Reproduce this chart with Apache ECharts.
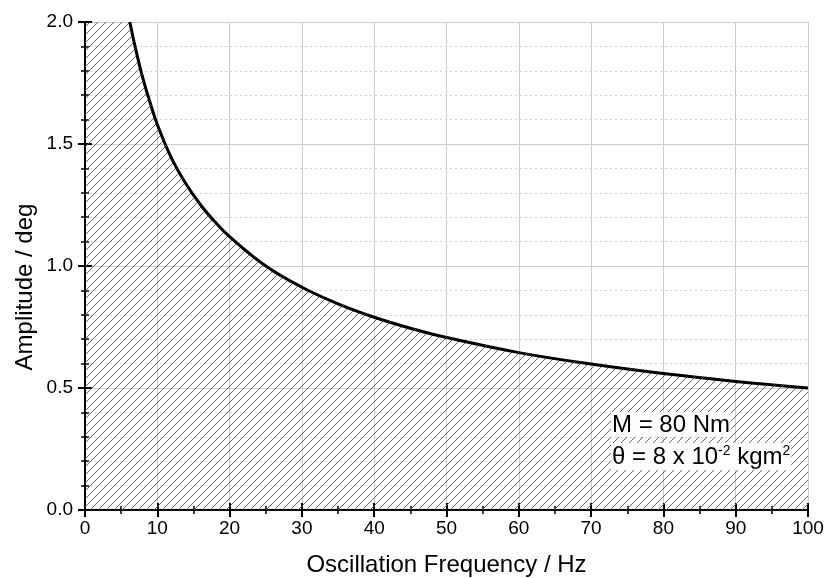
<!DOCTYPE html>
<html>
<head>
<meta charset="utf-8">
<script src="https://cdn.jsdelivr.net/npm/echarts@6/dist/echarts.min.js"></script>
<style>
  html, body { margin: 0; padding: 0; background: #fff; }
  #chart { width: 824px; height: 578px; }
</style>
</head>
<body>
<div id="chart"></div>
<script>
// curve (frequency in Hz, amplitude in deg)
var freq = [6.2, 7, 8, 9, 10, 12, 14, 16, 18, 20, 25, 30, 35, 40, 45, 50, 60, 70, 80, 90, 100];
var amp = [2.0, 1.89, 1.77, 1.67, 1.58, 1.44, 1.335, 1.25, 1.18, 1.12, 1.0, 0.913, 0.845, 0.79, 0.745, 0.707, 0.645, 0.598, 0.559, 0.527, 0.50];
// flat top of the hatched region left of the curve
var topFreq = [0, 6.2];
var topAmp = [2.0, 2.0];
var xTicks = [0, 10, 20, 30, 40, 50, 60, 70, 80, 90, 100];
var note1 = 'M = 80 Nm';

var font = '"Liberation Sans", Arial, sans-serif';

// hatch pattern
function hatch() {
    var c = document.createElement('canvas');
    c.width = 8; c.height = 8;
    var ctx = c.getContext('2d');
    ctx.strokeStyle = '#555';
    ctx.lineWidth = 0.9;
    ctx.beginPath();
    ctx.moveTo(0, 8); ctx.lineTo(8, 0);
    ctx.moveTo(-4, 4); ctx.lineTo(4, -4);
    ctx.moveTo(4, 12); ctx.lineTo(12, 4);
    ctx.stroke();
    return c;
}
var pattern = { image: hatch(), repeat: 'repeat' };

var curve = freq.map(function (f, i) { return [f, amp[i]]; });
var topPart = topFreq.map(function (f, i) { return [f, topAmp[i]]; });

var myChart = echarts.init(document.getElementById('chart'));

var axisCommon = {
    type: 'value',
    axisLine: { show: true, lineStyle: { color: '#000', width: 2 } },
    axisTick: { show: true, inside: true, length: 7, lineStyle: { color: '#000', width: 2 } },
    minorTick: { show: true, length: 4, lineStyle: { color: '#000', width: 1.5 } }
};

var option = {
    animation: false,
    grid: { left: 85, right: 16, top: 22, bottom: 68, outerBoundsMode: 'none', containLabel: false },
    xAxis: [
        Object.assign({}, axisCommon, {
            position: 'bottom',
            min: 0, max: 100, interval: 10,
            minorTick: Object.assign({}, axisCommon.minorTick, { splitNumber: 2 }),
            name: 'Oscillation Frequency / Hz',
            nameLocation: 'middle',
            nameGap: 43,
            nameTextStyle: { fontFamily: font, fontSize: 24, color: '#000' },
            axisLabel: { margin: 9, fontFamily: font, fontSize: 19, color: '#000',
                formatter: function (v) { return xTicks.indexOf(v) >= 0 ? String(v) : ''; } },
            splitLine: { show: true, lineStyle: { color: '#cccccc', width: 1 } }
        }),
        Object.assign({}, axisCommon, {
            position: 'top',
            min: 0, max: 100, interval: 10,
            minorTick: Object.assign({}, axisCommon.minorTick, { splitNumber: 2 }),
            axisLabel: { show: false },
            splitLine: { show: false }
        })
    ],
    yAxis: [
        Object.assign({}, axisCommon, {
            position: 'left',
            min: 0, max: 2, interval: 0.5,
            minorTick: Object.assign({}, axisCommon.minorTick, { splitNumber: 5 }),
            axisLabel: { margin: 12, fontFamily: font, fontSize: 19, color: '#000',
                formatter: function (v) { return v.toFixed(1); } },
            splitLine: { show: true, lineStyle: { color: '#cccccc', width: 1 } },
            minorSplitLine: { show: true, lineStyle: { color: '#d0d0d0', width: 1, type: [2, 3] } }
        }),
        Object.assign({}, axisCommon, {
            position: 'right',
            min: 0, max: 2, interval: 0.5,
            minorTick: Object.assign({}, axisCommon.minorTick, { splitNumber: 5 }),
            axisLabel: { show: false },
            splitLine: { show: false }
        })
    ],
    series: [
        {
            type: 'line',
            data: topPart,
            symbol: 'none',
            lineStyle: { width: 0 },
            areaStyle: { color: pattern, opacity: 1 },
            z: 2
        },
        {
            type: 'line',
            data: curve,
            smooth: 0.4,
            symbol: 'none',
            lineStyle: { color: '#000', width: 3 },
            areaStyle: { color: pattern, opacity: 1 },
            z: 3
        }
    ],
    graphic: [
        {
            type: 'text', x: 25, y: 287, rotation: Math.PI / 2, z: 100,
            style: { text: 'Amplitude / deg', fontFamily: font, fontSize: 24, fill: '#000',
                align: 'center', verticalAlign: 'middle' }
        },
        {
            type: 'text', left: 611, top: 412, z: 100,
            style: { text: note1, fontFamily: font, fontSize: 24, fill: '#000',
                backgroundColor: '#fff', padding: [1, 1, 0, 1] }
        },
        {
            type: 'text', left: 611, top: 443, z: 100,
            style: {
                text: 'θ = 8 x 10{sup|-2} kgm{sup|2}',
                fontFamily: font, fontSize: 24, fill: '#000',
                backgroundColor: '#fff', padding: [1, 1, 0, 1],
                rich: { sup: { fontFamily: font, fontSize: 14, verticalAlign: 'top', padding: [0, 0, 12, 0] } }
            }
        }
    ]
};

myChart.setOption(option);
</script>
</body>
</html>
